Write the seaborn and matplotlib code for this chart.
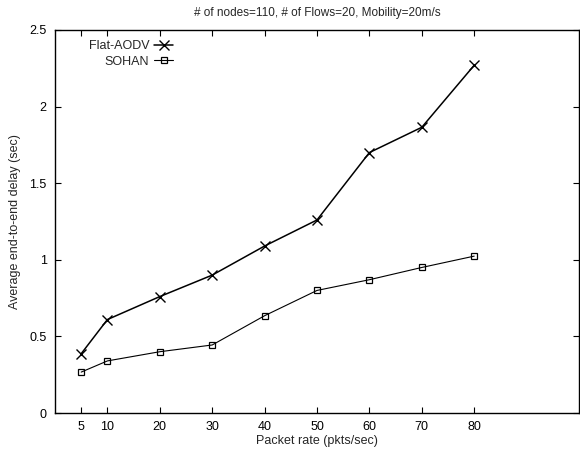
import matplotlib
matplotlib.use("Agg")
import matplotlib.pyplot as plt
import seaborn as sns
import pandas as pd
from matplotlib.ticker import FuncFormatter

packet_rate = [5, 10, 20, 30, 40, 50, 60, 70, 80]
flat_aodv = [0.387, 0.61, 0.76, 0.90, 1.09, 1.26, 1.70, 1.865, 2.27]
sohan = [0.267, 0.34, 0.40, 0.444, 0.635, 0.80, 0.87, 0.95, 1.024]
x_ticks = [5, 10, 20, 30, 40, 50, 60, 70, 80]
y_ticks = [0, 0.5, 1, 1.5, 2, 2.5]

df_flat = pd.DataFrame({"rate": packet_rate, "delay": flat_aodv})
df_sohan = pd.DataFrame({"rate": packet_rate, "delay": sohan})

sns.set_theme(style="ticks")
plt.rcParams["font.family"] = ["Liberation Sans", "DejaVu Sans"]

fig = plt.figure(figsize=(5.8, 4.59), dpi=100)
ax = fig.add_axes([55 / 580, 1 - 413 / 459, (579 - 55) / 580, (413 - 30) / 459])

sns.lineplot(data=df_flat, x="rate", y="delay", color="black", marker="x",
             markersize=6.5, markeredgewidth=1.0, markeredgecolor="black",
             linewidth=1.1, label="Flat-AODV", ax=ax, legend=False)
sns.lineplot(data=df_sohan, x="rate", y="delay", color="black", marker="s",
             markersize=5, markerfacecolor="none", markeredgecolor="black",
             markeredgewidth=0.9, linewidth=0.8,
             label="SOHAN", ax=ax, legend=False)

ax.set_xlim(0, 100)
ax.set_ylim(0, 2.5)
ax.set_xticks(x_ticks)
ax.set_yticks(y_ticks)
ax.yaxis.set_major_formatter(FuncFormatter(lambda v, p: f"{v:g}"))
ax.tick_params(direction="in", top=True, right=True, length=4, width=0.8,
               labelsize=9, colors="black", pad=6)
for s in ax.spines.values():
    s.set_linewidth(1.0)
    s.set_color("black")

ax.set_xlabel("Packet rate (pkts/sec)", fontsize=9, labelpad=1)
ax.set_ylabel("Average end-to-end delay (sec)", fontsize=9, labelpad=6)
ax.set_title("# of nodes=110, # of Flows=20, Mobility=20m/s", fontsize=8.5, pad=10)

leg = ax.legend(loc="upper left", markerfirst=False, frameon=False,
                fontsize=9, handlelength=1.5, handletextpad=0.4,
                labelspacing=0.3, borderaxespad=0.4, bbox_to_anchor=(0.045, 1.0))

fig.savefig("out.png", dpi=100)
